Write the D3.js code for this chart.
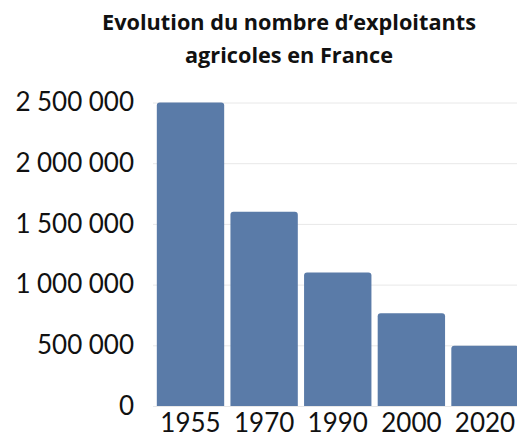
<!DOCTYPE html>
<html>
<head>
<meta charset="utf-8">
<script src="https://cdn.jsdelivr.net/npm/d3@7"></script>
<style>
  body { margin: 0; background: #fff; }
</style>
</head>
<body>
<svg id="chart" width="517" height="441"></svg>
<script>
let years = ["1955", "1970", "1990", "2000", "2020"];
let farmers = [2500000, 1600000, 1100000, 764000, 496000];
let yTicks = [0, 500000, 1000000, 1500000, 2000000, 2500000];
let titleLines = ["Evolution du nombre d\u2019exploitants", "agricoles en France"];

let svg = d3.select("#chart");

let x = d3.scaleBand()
  .domain(years)
  .range([153.5, 522])
  .paddingInner(0.085)
  .paddingOuter(0.045);

let y = d3.scaleLinear()
  .domain([0, 2500000])
  .range([406, 102.5]);

let fmt = (v) => d3.format(",")(v).replace(/,/g, "\u202f");

// gridlines
svg.append("g")
  .selectAll("line")
  .data(yTicks)
  .enter()
  .append("line")
  .attr("x1", 153)
  .attr("x2", 517)
  .attr("y1", (d) => y(d) + 0.5)
  .attr("y2", (d) => y(d) + 0.5)
  .attr("stroke", "#e8e8e8")
  .attr("stroke-width", 1);

// bars with slightly rounded tops
svg.append("g")
  .selectAll("path")
  .data(years)
  .enter()
  .append("path")
  .attr("fill", "#5a7ba8")
  .attr("d", (d, i) => {
    let x0 = x(d), w = x.bandwidth();
    let top = y(farmers[i]), bottom = y(0), r = 3;
    return "M" + x0 + "," + bottom +
      "V" + (top + r) +
      "Q" + x0 + "," + top + " " + (x0 + r) + "," + top +
      "H" + (x0 + w - r) +
      "Q" + (x0 + w) + "," + top + " " + (x0 + w) + "," + (top + r) +
      "V" + bottom + "Z";
  });

// y axis labels
let yAxis = d3.axisLeft(y)
  .tickValues(yTicks)
  .tickFormat(fmt)
  .tickSize(0)
  .tickPadding(0);

svg.append("g")
  .attr("transform", "translate(134,0)")
  .call(yAxis)
  .call((g) => g.select(".domain").remove())
  .selectAll("text")
  .style("font-family", "Lato, sans-serif")
  .style("font-size", "26px")
  .attr("fill", "#111");

// x axis labels
let xAxis = d3.axisBottom(x).tickSize(0).tickPadding(0);

svg.append("g")
  .attr("transform", "translate(0,414)")
  .call(xAxis)
  .call((g) => g.select(".domain").remove())
  .selectAll("text")
  .style("font-family", "Lato, sans-serif")
  .style("font-size", "26px")
  .attr("fill", "#111");

// title
svg.append("g")
  .selectAll("text")
  .data(titleLines)
  .enter()
  .append("text")
  .attr("x", 289)
  .attr("y", (d, i) => 30 + i * 33)
  .attr("text-anchor", "middle")
  .style("font-family", "'Open Sans', sans-serif")
  .style("font-weight", "bold")
  .style("font-size", "21.7px")
  .attr("fill", "#111")
  .text((d) => d);
</script>
</body>
</html>
